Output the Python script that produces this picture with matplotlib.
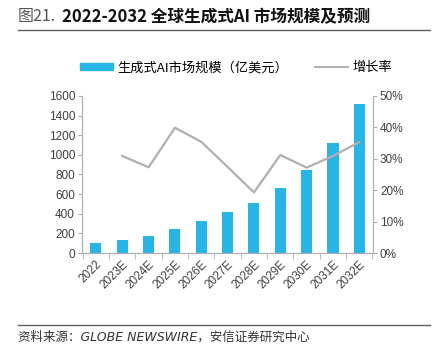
import matplotlib.pyplot as plt
import numpy as np
from matplotlib.lines import Line2D
from matplotlib.patches import Patch

plt.rcParams['font.family'] = ['Liberation Sans', 'Noto Sans CJK SC', 'DejaVu Sans']

# Data
years = ['2022', '2023E', '2024E', '2025E', '2026E', '2027E',
         '2028E', '2029E', '2030E', '2031E', '2032E']
market_size = [105, 137, 175, 241, 329, 418, 506, 665, 849, 1118, 1515]
growth = [None, 30.9, 27.3, 39.9, 35.4, 27.4, 19.3, 31.2, 27.2, 30.9, 35.3]

bar_color = '#27B5E5'
line_color = '#B5AEAE'
spine_color = '#B0B0B0'
text_color = '#404040'

fig = plt.figure(figsize=(4.36, 3.53), dpi=100)
ax = fig.add_axes([82 / 436, 1 - 253 / 353, (373 - 82) / 436, (253 - 96) / 353])
ax2 = ax.twinx()

x = np.arange(len(years))
ax.bar(x, market_size, width=0.42, color=bar_color, zorder=2)

gx = [i for i, g in enumerate(growth) if g is not None]
gy = [g for g in growth if g is not None]
ax2.plot(gx, gy, color=line_color, lw=1.6, zorder=3)

ax.set_xlim(-0.53, 10.52)
ax.set_ylim(0, 1600)
ax.set_yticks(range(0, 1601, 200))
ax2.set_ylim(0, 50)
ax2.set_yticks(range(0, 51, 10))
ax2.set_yticklabels([f'{v}%' for v in range(0, 51, 10)])

ax.set_xticks(x)
ax.set_xticklabels(years, rotation=45, ha='right', rotation_mode='anchor')
ax.set_xticks(np.arange(-0.5, 11, 1), minor=True)
ax.tick_params(axis='x', which='major', length=0, labelsize=8.5, colors=text_color, pad=4)
ax.tick_params(axis='x', which='minor', length=4, color=spine_color)
ax.tick_params(axis='y', length=3, color=spine_color, labelsize=8.5, labelcolor=text_color, pad=2)
ax2.tick_params(axis='y', length=3, color=spine_color, labelsize=8.5, labelcolor=text_color, pad=2)

for a in (ax, ax2):
    a.spines['top'].set_visible(False)
    for s in ('left', 'right', 'bottom'):
        a.spines[s].set_color(spine_color)
        a.spines[s].set_linewidth(0.8)

# Legend
handles = [Patch(color=bar_color), Line2D([0], [0], color=line_color, lw=1.4)]
fig.legend(handles, ['生成式AI市场规模（亿美元）', '增长率'],
           loc='center left', bbox_to_anchor=(68 / 436, 1 - 68 / 353), ncol=2,
           frameon=False, handlelength=2.5, handleheight=0.45,
           columnspacing=2.0, handletextpad=0.35,
           prop={'family': ['Noto Sans CJK SC'], 'size': 9.5})

# Title and frame lines
fig.text(18 / 436, 1 - 17 / 353, '图21.', fontsize=11.5, color='#555555',
         family=['Noto Sans CJK SC'], va='center')
fig.text(62 / 436, 1 - 17 / 353, '2022-2032 全球生成式AI 市场规模及预测', fontsize=12,
         color='#111111', fontweight='bold', family=['Noto Sans CJK SC'], va='center')
fig.add_artist(Line2D([18 / 436, 430 / 436], [1 - 29.5 / 353] * 2, color='#606060', lw=1))
fig.add_artist(Line2D([18 / 436, 430 / 436], [1 - 325 / 353] * 2, color='#606060', lw=1))
fig.text(18 / 436, 1 - 337 / 353, '资料来源：GLOBE NEWSWIRE，安信证券研究中心', fontsize=9,
         color='#333333', style='italic', family=['DejaVu Sans', 'Noto Sans CJK SC'],
         va='center')

fig.savefig('out.png', dpi=100)
